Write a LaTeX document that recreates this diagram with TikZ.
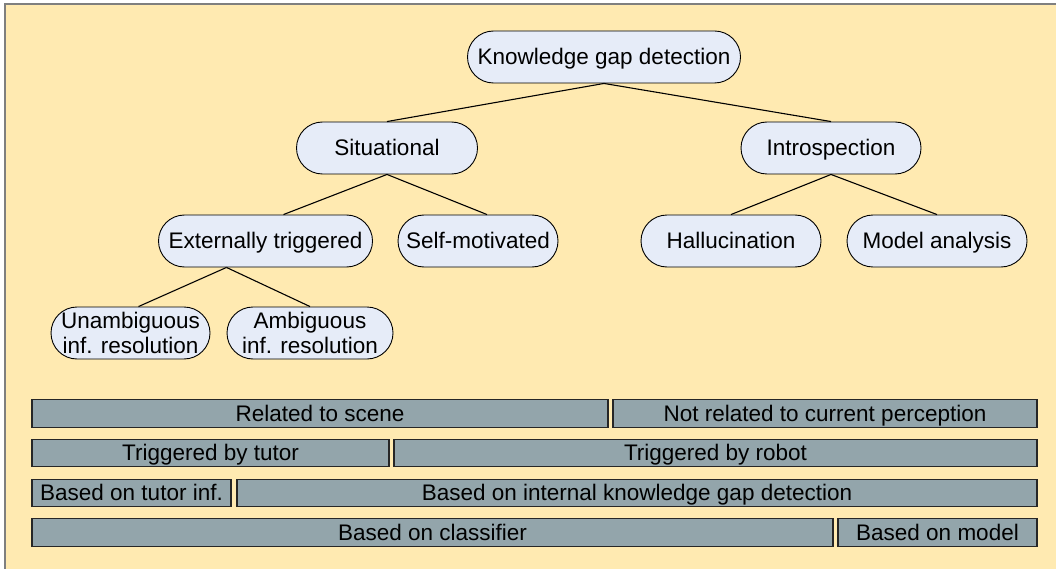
\documentclass[tikz,border=0pt]{standalone}
\usepackage{fontspec}
\setmainfont{Liberation Sans}
\usetikzlibrary{calc}

\definecolor{sheet}{HTML}{FFEAB1}
\definecolor{pillfill}{HTML}{E6ECF8}
\definecolor{bandfill}{HTML}{93A5AB}
\definecolor{frame}{HTML}{7F7F7F}

\tikzset{
  pill/.style={draw=black,line width=0.9pt,fill=pillfill,rounded corners=26pt,
    minimum height=52pt,inner sep=0pt,align=center,font=\fontsize{22.5}{25}\selectfont},
  onepill/.style={pill,text height=20.4pt,text depth=4.8pt},
  band/.style={draw=black!85,line width=1.2pt,fill=bandfill,minimum height=27.5pt,
    inner sep=0pt,text height=20.4pt,text depth=4.8pt,font=\fontsize{22.5}{25}\selectfont},
  link/.style={line width=1.1pt}
}

\begin{document}
\begin{tikzpicture}[x=1pt,y=-1pt]
\useasboundingbox (0,0) rectangle (1056,569);
\fill [sheet] (5,4) rectangle (1056,569);
\draw [frame,line width=2pt] (5,569) -- (5,4) -- (1056,4);

\node [onepill,minimum width=273pt] (kgd) at (604,57) {Knowledge gap detection};
\node [onepill,minimum width=181pt] (sit) at (387,148) {Situational};
\node [onepill,minimum width=180pt] (intro) at (831,148) {Introspection};
\node [onepill,minimum width=214pt] (ext) at (265.5,241) {Externally triggered};
\node [onepill,minimum width=160pt] (self) at (478,241) {Self-motivated};
\node [onepill,minimum width=180pt] (hall) at (731,241) {Hallucination};
\node [onepill,minimum width=180pt] (model) at (937,241) {Model analysis};
\node [pill,minimum width=159pt] (unamb) at (130.5,333) {Unambiguous\\inf. resolution};
\node [pill,minimum width=166pt] (amb) at (310,333) {Ambiguous\\inf. resolution};

\draw [link] (kgd.south) -- (sit.north);
\draw [link] (kgd.south) -- (intro.north);
\draw [link] (sit.south) -- ($(ext.north)+(18,0)$);
\draw [link] (sit.south) -- ($(self.north)+(9,0)$);
\draw [link] (intro.south) -- (hall.north);
\draw [link] (intro.south) -- (model.north);
\coordinate (extout) at ($(ext.south)+(-39,0)$);
\draw [link] (extout) -- ($(unamb.north)+(8,0)$);
\draw [link] (extout) -- (amb.north);

\node [band,minimum width=576pt] (scene) at (320,413.5) {Related to scene};
\node [band,minimum width=424pt] (notscene) at (825,413.5) {Not related to current perception};
\node [band,minimum width=357pt] (tutor) at (210.5,453) {Triggered by tutor};
\node [band,minimum width=643pt] (robot) at (715.5,453) {Triggered by robot};
\node [band,minimum width=199pt] (tutorinf) at (131.5,493) {Based on tutor inf.};
\node [band,minimum width=800pt] (internal) at (637,493) {Based on internal knowledge gap detection};
\node [band,minimum width=801pt] (classifier) at (432.5,532.5) {Based on classifier};
\node [band,minimum width=199pt] (basedmodel) at (937.5,532.5) {Based on model};

\end{tikzpicture}
\end{document}
